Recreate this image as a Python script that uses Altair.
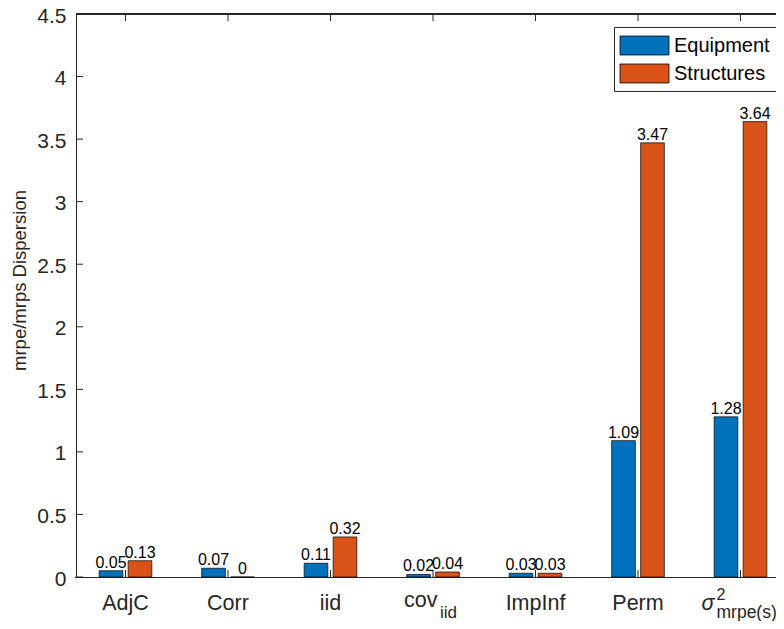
import altair as alt
import pandas as pd

categories = ["AdjC", "Corr", "iid", "cov_iid", "ImpInf", "Perm", "sigma2_mrpe(s)"]
series_names = ["Equipment", "Structures"]
equipment = [0.05, 0.07, 0.11, 0.02, 0.03, 1.09, 1.28]
structures = [0.13, 0.0, 0.32, 0.04, 0.03, 3.47, 3.64]
y_ticks = [0, 0.5, 1, 1.5, 2, 2.5, 3, 3.5, 4, 4.5]
colors = ["#0072BD", "#D95319"]

rows = []
for c, e, s in zip(categories, equipment, structures):
    rows.append({"cat": c, "series": "Equipment", "value": e})
    rows.append({"cat": c, "series": "Structures", "value": s})
df = pd.DataFrame(rows)
cat_df = pd.DataFrame({"cat": categories})
tick_df = pd.DataFrame({"tick": y_ticks})

W_FULL, H = 713, 563   # full axes box (right edge falls outside the window)
W_VIEW = 700           # visible part of the plot area
AX = "#262626"
FONT = "Liberation Sans"

xscale = alt.Scale(domain=categories, range=[-1.75, 715.75], paddingInner=0, paddingOuter=0)
yscale = alt.Scale(domain=[0, 4.5], nice=False, zero=True)
offscale = alt.Scale(domain=series_names, paddingInner=0.183, paddingOuter=0.859)

legend_path = "M-2.04,-0.79H2.04V0.79H-2.04Z"

bars = alt.Chart(df).mark_bar(stroke="black", strokeWidth=0.7).encode(
    x=alt.X("cat:N", scale=xscale, sort=categories,
            axis=alt.Axis(title=None, domain=True, domainColor=AX, domainWidth=1,
                          ticks=False, tickSize=0, labelAngle=0,
                          labelFontSize=21.5, labelPadding=15, labelColor=AX, labelFont=FONT,
                          labelExpr="datum.value == 'cov_iid' || datum.value == 'sigma2_mrpe(s)' ? '' : datum.value")),
    xOffset=alt.XOffset("series:N", scale=offscale),
    y=alt.Y("value:Q", scale=yscale,
            axis=alt.Axis(values=y_ticks, format="~g", domain=True, domainColor=AX, domainWidth=1,
                          ticks=False, tickSize=0, grid=False,
                          labelFontSize=21, labelPadding=10, labelOffset=2, labelColor=AX, labelFont=FONT,
                          title="mrpe/mrps Dispersion", titleFontSize=18.5, titleFontWeight="normal",
                          titleColor=AX, titleFont=FONT, titleX=-57, titleY=266,
                          titleAngle=270, titleAlign="center", titleBaseline="middle")),
    color=alt.Color("series:N", scale=alt.Scale(domain=series_names, range=colors),
                    legend=alt.Legend(title=None, orient="none", legendX=538, legendY=13,
                                      symbolType=legend_path, symbolSize=576,
                                      symbolStrokeColor="black", symbolStrokeWidth=0.8,
                                      symbolOpacity=1, symbolOffset=12, labelOffset=17,
                                      labelFontSize=20, labelColor="black", labelFont=FONT,
                                      padding=6, rowPadding=4, strokeColor=AX, fillColor="white")),
)

value_text = alt.Chart(df).mark_text(baseline="alphabetic", dy=-3, fontSize=16, color="black", font=FONT).encode(
    x=alt.X("cat:N", scale=xscale, sort=categories),
    xOffset=alt.XOffset("series:N", scale=offscale),
    y=alt.Y("value:Q", scale=yscale),
    text=alt.Text("value:Q", format=".2~f"),
)

top_line = alt.Chart(cat_df).mark_rule(color=AX, strokeWidth=1).encode(
    x=alt.value(0), x2=alt.value(W_FULL), y=alt.value(0))
left_ticks = alt.Chart(tick_df).mark_rule(color=AX, strokeWidth=1).encode(
    y=alt.Y("tick:Q", scale=yscale), x=alt.value(0), x2=alt.value(7))
right_ticks = alt.Chart(tick_df).mark_rule(color=AX, strokeWidth=1).encode(
    y=alt.Y("tick:Q", scale=yscale), x=alt.value(W_FULL - 7), x2=alt.value(W_FULL))
top_ticks = alt.Chart(cat_df).mark_rule(color=AX, strokeWidth=1).encode(
    x=alt.X("cat:N", scale=xscale, sort=categories), y=alt.value(0), y2=alt.value(7))
bottom_ticks = alt.Chart(cat_df).mark_rule(color=AX, strokeWidth=1).encode(
    x=alt.X("cat:N", scale=xscale, sort=categories), y=alt.value(H), y2=alt.value(H - 7))


def label_part(cat, txt, dx, ypix, size, style="normal"):
    return alt.Chart(cat_df).transform_filter(alt.datum.cat == cat).mark_text(
        text=txt, align="left", baseline="alphabetic", dx=dx, fontSize=size,
        color=AX, font=FONT, fontStyle=style).encode(
        x=alt.X("cat:N", scale=xscale, sort=categories), y=alt.value(ypix))


cov_main = label_part("cov_iid", "cov", -29, 593, 21.5)
cov_sub = label_part("cov_iid", "iid", 7, 604, 17)
sig_main = label_part("sigma2_mrpe(s)", "σ", -39, 596, 21.5, "italic")
sig_sup = label_part("sigma2_mrpe(s)", "2", -24, 586, 16)
sig_sub = label_part("sigma2_mrpe(s)", "mrpe(s)", -24, 604, 17.5)

chart = alt.layer(
    bars, value_text, top_line, left_ticks, right_ticks, top_ticks, bottom_ticks,
    cov_main, cov_sub, sig_main, sig_sup, sig_sub,
).properties(
    width=W_VIEW, height=H,
    padding={"left": 68, "top": 6, "right": 0, "bottom": 44},
    autosize=alt.AutoSizeParams(type="none"),
).configure(font=FONT).configure_view(strokeWidth=0)

chart.save("out.html", embed_options={"renderer": "svg", "actions": False})
